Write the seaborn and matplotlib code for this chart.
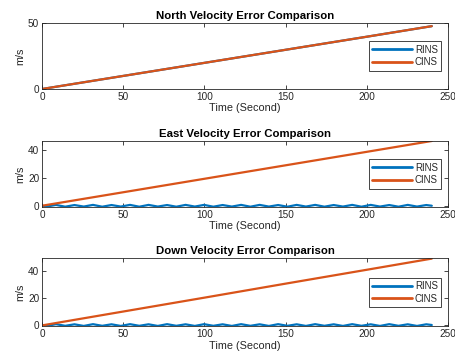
import numpy as np
import pandas as pd
import matplotlib
matplotlib.use('Agg')
import matplotlib.pyplot as plt
import seaborn as sns

# CINS error grows roughly linearly with time
t_cins = [0, 50, 100, 150, 200, 240]
north_cins = [0, 9.9, 19.8, 29.7, 39.6, 47.6]
east_cins = [0, 9.7, 19.4, 29.1, 38.8, 46.6]
down_cins = [0, 10.2, 20.4, 30.7, 40.9, 49.1]
north_rins = [0, 9.9, 19.8, 29.7, 39.6, 47.6]

# RINS east / down: small oscillation around zero (peaks and troughs)
t_rins = [0, 2.9, 8.6, 14.3, 20.0, 25.7, 31.4, 37.1, 42.8, 48.5, 54.2, 59.9,
          65.6, 71.3, 77.0, 82.7, 88.4, 94.1, 99.8, 105.5, 111.2, 116.9, 122.6,
          128.3, 134.0, 139.7, 145.4, 151.1, 156.8, 162.5, 168.2, 173.9, 179.6,
          185.3, 191.0, 196.7, 202.4, 208.1, 213.8, 219.5, 225.2, 230.9, 236.6, 240]
east_rins = [0, -0.6, 0.6, -0.7, 0.5, -0.6, 0.6, -0.7, 0.5, -0.6, 0.6, -0.7,
             0.6, -0.6, 0.5, -0.7, 0.6, -0.6, 0.6, -0.7, 0.5, -0.6, 0.6,
             -0.7, 0.6, -0.6, 0.5, -0.7, 0.6, -0.6, 0.6, -0.7, 0.5,
             -0.6, 0.6, -0.7, 0.6, -0.6, 0.5, -0.7, 0.6, -0.6, 0.5, 0]
down_rins = [0, -0.4, 0.9, -0.3, 0.8, -0.4, 0.9, -0.3, 0.8, -0.4, 0.9, -0.3,
             0.8, -0.4, 0.9, -0.3, 0.8, -0.4, 0.9, -0.3, 0.8, -0.4, 0.9,
             -0.3, 0.8, -0.4, 0.9, -0.3, 0.8, -0.4, 0.9, -0.3, 0.8,
             -0.4, 0.9, -0.3, 0.8, -0.4, 0.9, -0.3, 0.8, -0.4, 0.8, 0.3]

titles = ['North Velocity Error Comparison', 'East Velocity Error Comparison',
          'Down Velocity Error Comparison']
ylims = [(0, 50), (-0.9, 46.6), (-0.8, 49.2)]
yticks = [[0, 50], [0, 20, 40], [0, 20, 40]]

sns.set_theme(style='white')
plt.rcParams['font.family'] = ['Liberation Sans', 'DejaVu Sans']
dark = '#262626'
c_rins = '#0072BD'
c_cins = '#D95319'

fig = plt.figure(figsize=(4.56, 3.58), dpi=100)
boxes = [[0.0921, 0.7514, 0.8904, 0.1844],
         [0.0921, 0.4218, 0.8904, 0.1844],
         [0.0921, 0.0880, 0.8904, 0.1900]]

panels = [
    (t_cins, north_rins, t_cins, north_cins),
    (t_rins, east_rins, t_cins, east_cins),
    (t_rins, down_rins, t_cins, down_cins),
]

for k, (tr, vr, tc, vc) in enumerate(panels):
    ax = fig.add_axes(boxes[k])
    df_r = pd.DataFrame({'t': tr, 'v': vr})
    df_c = pd.DataFrame({'t': tc, 'v': vc})
    sns.lineplot(data=df_r, x='t', y='v', ax=ax, color=c_rins, lw=1.6, label='RINS')
    sns.lineplot(data=df_c, x='t', y='v', ax=ax, color=c_cins, lw=1.6, label='CINS')
    ax.set_xlim(0, 250)
    ax.set_ylim(*ylims[k])
    ax.set_xticks([0, 50, 100, 150, 200, 250])
    ax.set_yticks(yticks[k])
    ax.tick_params(direction='in', length=3, width=0.6, labelsize=7.2,
                   colors=dark, top=True, right=True, bottom=True, left=True, pad=2)
    for s in ax.spines.values():
        s.set_color(dark)
        s.set_linewidth(0.6)
    ax.set_xlabel('Time (Second)', fontsize=7.8, color=dark, labelpad=1)
    ax.set_ylabel('m/s', fontsize=7.8, color=dark, labelpad=2)
    ax.set_title(titles[k], fontsize=8.2, fontweight='bold', color='black', pad=3)
    leg = ax.legend(loc='center right', fontsize=7, frameon=True, fancybox=False,
                    framealpha=1, edgecolor=dark, handlelength=4.1, handletextpad=0.3,
                    labelspacing=0.25, borderpad=0.35, borderaxespad=0.7)
    leg.get_frame().set_linewidth(0.6)
    for h in leg.get_lines():
        h.set_linewidth(2)

fig.savefig('out.png', dpi=100)
